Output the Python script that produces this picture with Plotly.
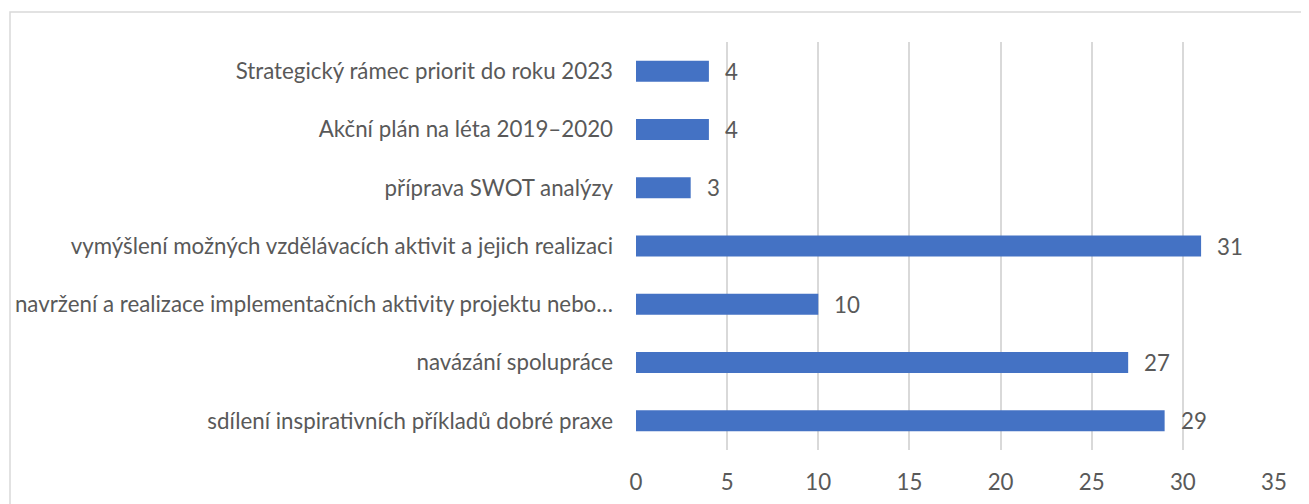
import plotly.graph_objects as go

categories = [
    "Strategický rámec priorit do roku 2023",
    "Akční plán na léta 2019–2020",
    "příprava SWOT analýzy",
    "vymýšlení možných vzdělávacích aktivit a jejich realizaci",
    "navržení a realizace implementačních aktivity projektu nebo…",
    "navázání spolupráce",
    "sdílení inspirativních příkladů dobré praxe",
]
values = [4, 4, 3, 31, 10, 27, 29]
x_ticks = [0, 5, 10, 15, 20, 25, 30, 35]

W, H = 1309, 504
OFF = 8  # page body margin offset
L, T = 636 - OFF, 42 - OFF
pw, ph = 638, 408
R = W - L - pw
B = H - T - ph

font_family = "Lato, 'Open Sans', sans-serif"
gray = "#595959"
fs = 22.3

fig = go.Figure()
fig.add_trace(go.Bar(
    y=categories, x=values, orientation="h",
    marker=dict(color="#4472C4", line=dict(width=0)),
    width=0.36, hoverinfo="x+y",
))
for c, v in zip(categories, values):
    fig.add_annotation(x=v, y=c, text=str(v), showarrow=False,
                       xanchor="left", xshift=14,
                       font=dict(family=font_family, size=fs, color=gray))

# outer light border
fig.add_shape(type="rect", xref="paper", yref="paper",
              x0=(10 - OFF - L) / pw, x1=(W + 40 - L) / pw,
              y0=-(H + 40 - T - ph) / ph, y1=1 + (T - (12 - OFF)) / ph,
              line=dict(color="#D9D9D9", width=1.5), fillcolor="rgba(0,0,0,0)",
              layer="below")

fig.update_layout(
    width=W, height=H,
    margin=dict(l=L, r=R, t=T, b=B, autoexpand=False),
    plot_bgcolor="white", paper_bgcolor="white",
    showlegend=False,
    font=dict(family=font_family, size=fs, color=gray),
    xaxis=dict(range=[0, 35], tickvals=x_ticks, showgrid=True,
               gridcolor="#D9D9D9", gridwidth=1.5, zeroline=False,
               showline=False, ticks="", ticklabelstandoff=17,
               automargin=False,
               tickfont=dict(size=fs, color=gray), fixedrange=True),
    yaxis=dict(autorange="reversed", showgrid=False, showline=False,
               ticks="", ticklabelstandoff=22, automargin=False,
               tickfont=dict(size=fs, color=gray), fixedrange=True),
)

fig.write_html("out.html")
